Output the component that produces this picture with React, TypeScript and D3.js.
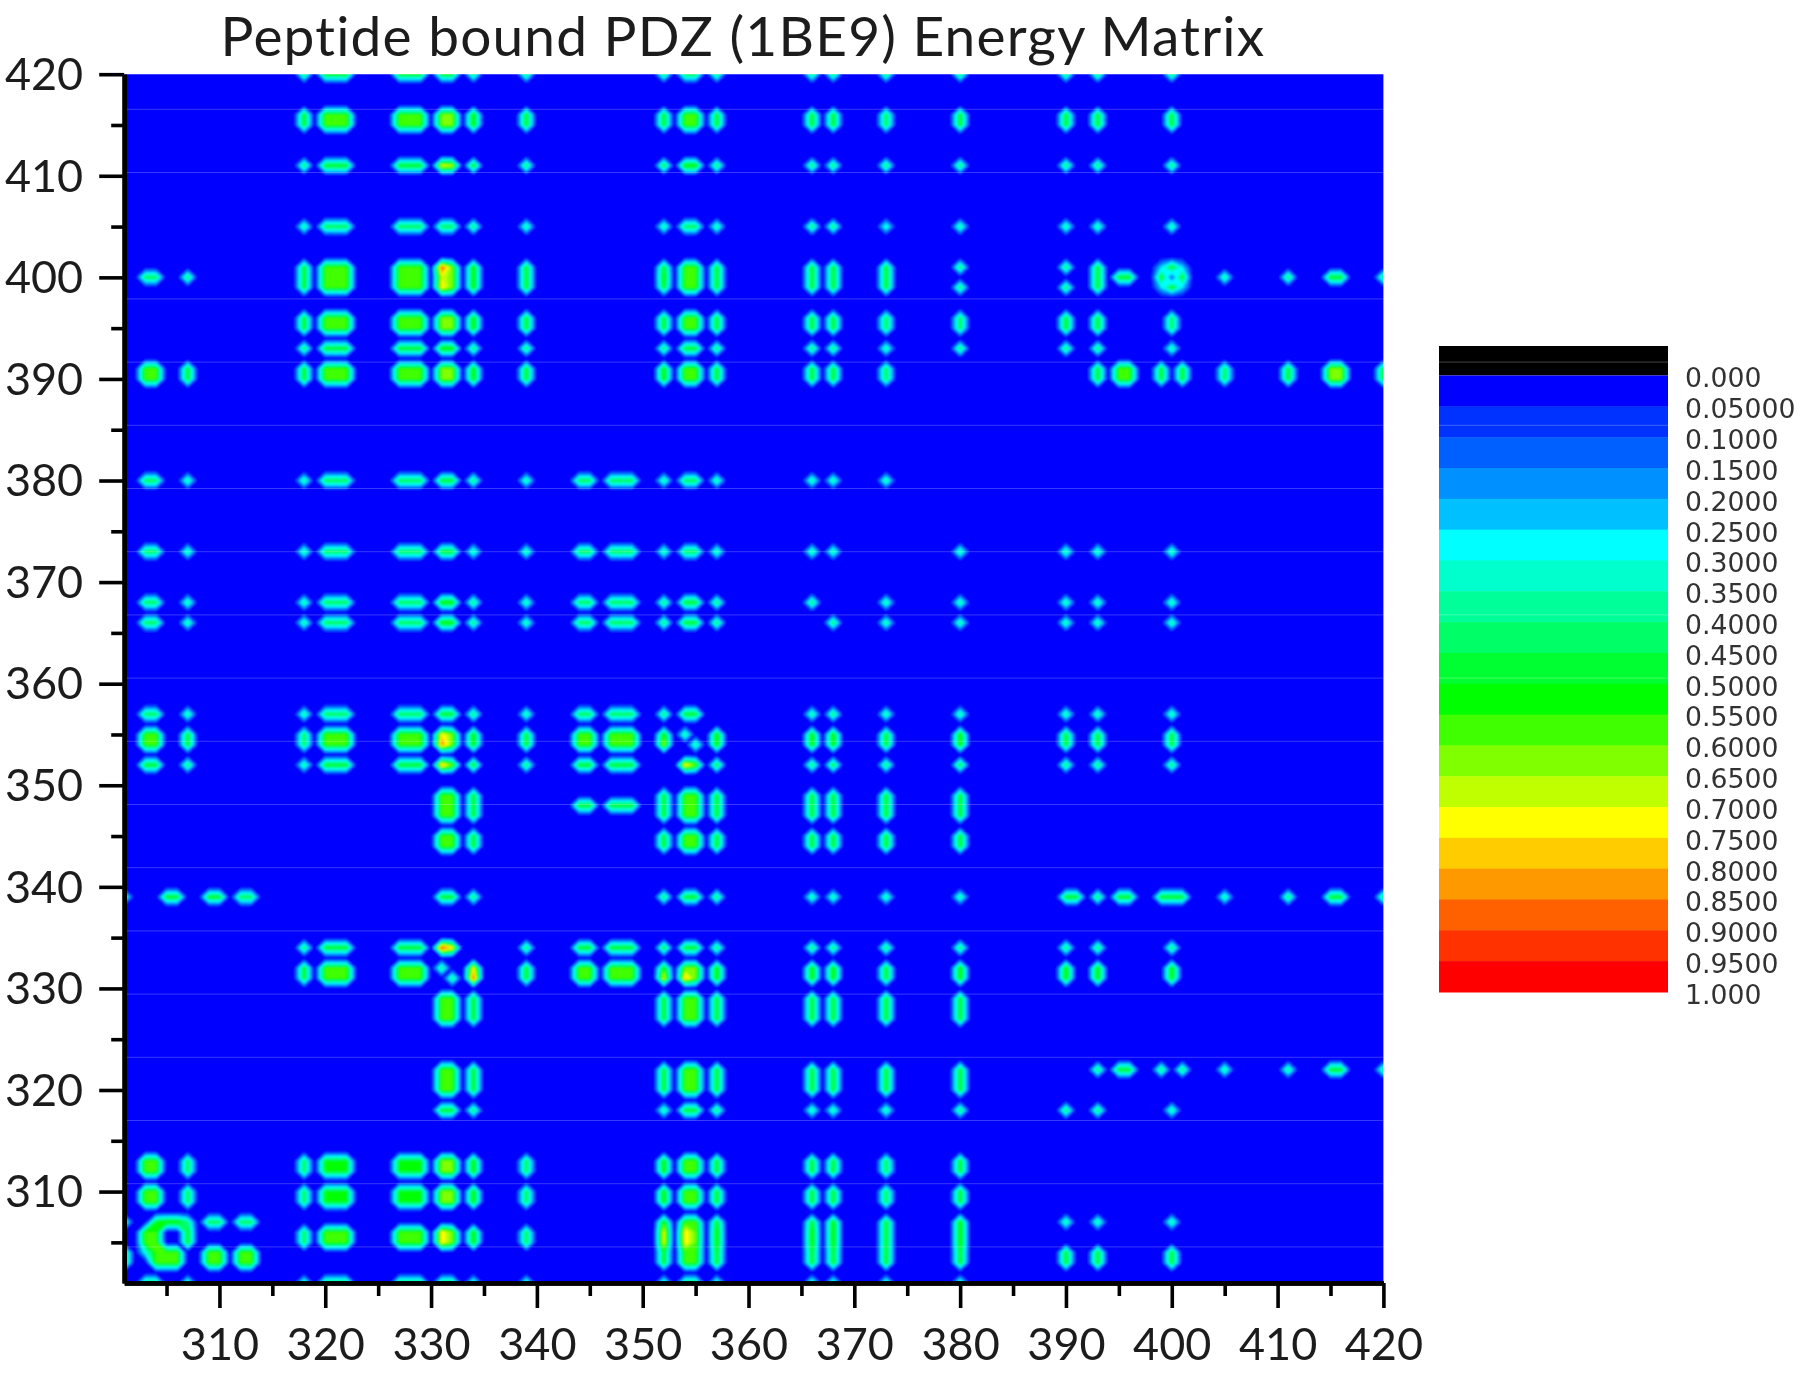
import React, { useEffect, useRef } from 'react';
import * as d3 from 'd3';

const titleText = 'Peptide bound PDZ (1BE9) Energy Matrix';

const xTicks = [310, 320, 330, 340, 350, 360, 370, 380, 390, 400, 410, 420];
const yTicks = [310, 320, 330, 340, 350, 360, 370, 380, 390, 400, 410, 420];
const minorTicks = [305, 315, 325, 335, 345, 355, 365, 375, 385, 395, 405, 415];

const legendLabels = ['0.000', '0.05000', '0.1000', '0.1500', '0.2000', '0.2500', '0.3000', '0.3500', '0.4000', '0.4500', '0.5000', '0.5500', '0.6000', '0.6500', '0.7000', '0.7500', '0.8000', '0.8500', '0.9000', '0.9500', '1.000'];
const bandColors = ['#0000ff', '#0030ff', '#0060ff', '#0090ff', '#00c0ff', '#00ffff', '#00ffcc', '#00ff99', '#00ff66', '#00ff33', '#00ff00', '#40ff00', '#80ff00', '#bfff00', '#ffff00', '#ffcc00', '#ff9900', '#ff6000', '#ff3000', '#ff0000'];
const bandLevels = [0, 0.05, 0.1, 0.15, 0.2, 0.25, 0.3, 0.35, 0.4, 0.45, 0.5, 0.55, 0.6, 0.65, 0.7, 0.75, 0.8, 0.85, 0.9, 0.95];

// residue groups along x
const colBands = [[301, 301], [303, 304], [305, 306], [307, 307], [309, 310], [312, 313], [318, 318], [320, 322], [327, 329], [331, 332], [334, 334], [339, 339], [344, 345], [347, 349], [352, 352], [354, 355], [357, 357], [366, 366], [368, 368], [373, 373], [380, 380], [390, 390], [393, 393], [395, 396], [399, 399], [400, 400], [401, 401], [405, 405], [411, 411], [415, 416], [420, 420]];

// residue groups along y, same order as energyRows
const rowBands = [[420, 420], [415, 416], [411, 411], [405, 405], [401, 401], [400, 400], [399, 399], [395, 396], [393, 393], [390, 391], [380, 380], [373, 373], [368, 368], [366, 366], [357, 357], [354, 355], [352, 352], [347, 349], [344, 345], [339, 339], [334, 334], [331, 332], [327, 329], [320, 322], [318, 318], [312, 313], [309, 310], [307, 307], [305, 306], [303, 304], [301, 301]];

const energyLevels: Record<string, number> = { '.': 0, b: 0.35, c: 0.4, d: 0.45, e: 0.5, f: 0.55, g: 0.6, h: 0.68 };

const energyRows = [
    '...... deeedd ..ddd dddd dd..d. ....',
    '...... effgfe ..efe eede ee..e. ....',
    '...... deehfd ..efd dddd dd..d. ....',
    '...... cddddc ..cdc ddbc cc..c. ....',
    '...... effgfe ..efe eeed de..e. ....',
    '.d.d.. effgfe ..ffe eee. .eee.e cded',
    '...... effgfe ..efe eeed de..e. ....',
    '...... effgfe ..efe eedd ee..d. ....',
    '...... deefdd ..ded ddcd dd..c. ....',
    '.f.e.. effgfe ..ffe eed. .efe.e dege',
    '.d.c.. cddedc ddcdc ccc. ...... ....',
    '.d.c.. cddecc ddcdc cc.c cc..c. ....',
    '.d.c.. cddfdc ddded d.cc cc..c. ....',
    '.d.c.. cddfdc ddded .dcc cc..c. ....',
    '.d.c.. cddedc ddde. cdcc cc..c. ....',
    '.f.e.. dffgfe fff.f ffef ee..e. ....',
    '.e.d.. ceegfd ee.ge dede dd..d. ....',
    '...... ...fe. ..efe eeee ...... ....',
    '...... ...fe. ..efe eeee ...... ....',
    'c.e.ed ...ed. ..ded cccc edeeee cded',
    '...... deeg.d eeeed dddd dd..d. ....',
    '...... eff.ge fffgf ffef ff..f. ....',
    '...... ...fe. ..efe eeee ...... ....',
    '...... ...fe. ..efe eeee ...... ....',
    '...... ...ed. ..ced cccd dd..c. ....',
    '.f.d.. deegfd ..ffe eede ...... ....',
    '.f.d.. deegfd ..ffe eede ...... ....',
    'cef.dd ...... ..ffe efef cc..c. ....',
    '.f.e.. dffgfd ..fgf ffef ...... ....',
    'eff.ff ...... ..efe eeee ee..e. ....',
    '.d.c.. cdddcc ..cdc cccc ...... ....',
];

// single residue pairs that differ from their group [x, y, energy]
const spotCells = [
    [331, 401, 0.9], [331, 400, 0.7], [331, 399, 0.75], [331, 411, 0.72], [331, 354, 0.85], [331, 355, 0.75],
    [331, 352, 0.82], [331, 334, 0.95], [332, 334, 0.75], [331, 305, 0.75], [331, 306, 0.75], [334, 331, 0.9],
    [334, 332, 0.75], [352, 305, 0.72], [352, 306, 0.72], [354, 305, 0.75], [354, 306, 0.75], [354, 331, 0.8],
    [352, 331, 0.72], [354, 352, 0.78], [352, 354, 0.65], [354, 355, 0.4], [355, 354, 0.4], [331, 332, 0.42],
    [332, 331, 0.42], [393, 322, 0.45], [395, 322, 0.5], [396, 322, 0.5], [399, 322, 0.45], [401, 322, 0.45],
    [405, 322, 0.4], [411, 322, 0.42], [415, 322, 0.5], [416, 322, 0.5], [420, 322, 0.42], [391, 339, 0.5],
    [303, 303, 0], [303, 307, 0], [303, 304, 0.3], [307, 307, 0.4],
    [344, 348, 0.5], [345, 348, 0.5], [347, 348, 0.5], [348, 348, 0.5], [349, 348, 0.5],
    [399, 399, 0.25], [401, 399, 0.25], [399, 401, 0.25], [401, 401, 0.25], [400, 400, 0.1],
];

const firstResidue = 301;
const lastResidue = 420;

function buildGrid() {
    const n = lastResidue - firstResidue + 1;
    const grid = new Array(n * n).fill(0);
    const setCell = (x: number, y: number, v: number) => {
        grid[(y - firstResidue) * n + (x - firstResidue)] = v;
    };
    energyRows.forEach((row, i) => {
        const cells = row.replace(/ /g, '');
        colBands.forEach((col, j) => {
            const v = energyLevels[cells[j]];
            for (let y = rowBands[i][0]; y <= rowBands[i][1]; y++) {
                for (let x = col[0]; x <= col[1]; x++) setCell(x, y, v);
            }
        });
    });
    spotCells.forEach(s => setCell(s[0], s[1], s[2]));
    return { n, grid };
}

export default function App() {
    const svgRef = useRef<SVGSVGElement>(null);

    useEffect(() => {
        const width = 1800;
        const height = 1374;
        const plot = { left: 124.2, right: 1383.4, top: 74.2, bottom: 1283 };
        const legend = { x: 1439, width: 229, top: 375.5, bottom: 992, blackTop: 346 };
        const tickFont = 'Lato, sans-serif';

        const svg = d3.select(svgRef.current)
            .attr('width', width)
            .attr('height', height)
            .attr('viewBox', `0 0 ${width} ${height}`)
            .style('position', 'absolute')
            .style('left', 0)
            .style('top', 0)
            .style('background', '#fff');

        svg.selectAll('*').remove();

        const xScale = d3.scaleLinear().domain([firstResidue, lastResidue]).range([plot.left, plot.right]);
        const yScale = d3.scaleLinear().domain([firstResidue, lastResidue]).range([plot.bottom, plot.top]);

        const defs = svg.append('defs');
        defs.append('clipPath').attr('id', 'plot-clip')
            .append('rect')
            .attr('x', plot.left).attr('y', plot.top)
            .attr('width', plot.right - plot.left).attr('height', plot.bottom - plot.top);
        defs.append('filter').attr('id', 'soft').attr('x', '-2%').attr('y', '-2%').attr('width', '104%').attr('height', '104%')
            .append('feGaussianBlur').attr('stdDeviation', 1.1);
        defs.append('filter').attr('id', 'soft-text').attr('x', '-5%').attr('y', '-5%').attr('width', '110%').attr('height', '110%')
            .append('feGaussianBlur').attr('stdDeviation', 0.5);

        // contour bands
        const { n, grid } = buildGrid();
        const contours = d3.contours().size([n, n]).thresholds(bandLevels.slice(1))(grid);
        const gridX = d3.scaleLinear().domain([0.5, n - 0.5]).range([xScale(firstResidue), xScale(lastResidue)]);
        const gridY = d3.scaleLinear().domain([0.5, n - 0.5]).range([yScale(firstResidue), yScale(lastResidue)]);
        const path = d3.geoPath(d3.geoTransform({
            point(x, y) {
                this.stream.point(gridX(x), gridY(y));
            },
        }));

        const plotArea = svg.append('g').attr('clip-path', 'url(#plot-clip)');
        const field = plotArea.append('g').attr('filter', 'url(#soft)');
        field.append('rect')
            .attr('x', plot.left - 20).attr('y', plot.top - 20)
            .attr('width', plot.right - plot.left + 40).attr('height', plot.bottom - plot.top + 40)
            .attr('fill', bandColors[0]);
        field.selectAll('path.band')
            .data(contours)
            .enter()
            .append('path')
            .attr('class', 'band')
            .attr('d', d => path(d))
            .attr('fill', (d, i) => bandColors[i + 1]);

        // faint scan seams of the original figure
        const seams = d3.range(19).map(i => 109.3 + i * 63.2);
        plotArea.selectAll('line.seam')
            .data(seams.filter((d, i) => i !== 2))
            .enter()
            .append('line')
            .attr('class', 'seam')
            .attr('x1', plot.left).attr('x2', plot.right)
            .attr('y1', d => d).attr('y2', d => d)
            .attr('stroke', '#fff').attr('stroke-opacity', 0.22).attr('stroke-width', 1);

        // axes
        const textLayer = svg.append('g').attr('filter', 'url(#soft-text)');

        const xMajor = textLayer.append('g')
            .attr('transform', `translate(0,${plot.bottom})`)
            .call(d3.axisBottom(xScale).tickValues(xTicks).tickSize(25).tickSizeOuter(0).tickFormat(d3.format('d')));
        const xMinor = textLayer.append('g')
            .attr('transform', `translate(0,${plot.bottom})`)
            .call(d3.axisBottom(xScale).tickValues(minorTicks).tickSize(13).tickSizeOuter(0).tickFormat(() => ''));
        const yMajor = textLayer.append('g')
            .attr('transform', `translate(${plot.left},0)`)
            .call(d3.axisLeft(yScale).tickValues(yTicks).tickSize(25).tickSizeOuter(0).tickFormat(d3.format('d')));
        const yMinor = textLayer.append('g')
            .attr('transform', `translate(${plot.left},0)`)
            .call(d3.axisLeft(yScale).tickValues(minorTicks).tickSize(13).tickSizeOuter(0).tickFormat(() => ''));

        [xMajor, xMinor, yMajor, yMinor].forEach(axis => {
            axis.selectAll('.domain').attr('stroke', '#000').attr('stroke-width', 4.5);
            axis.selectAll('.tick line').attr('stroke', '#000').attr('stroke-width', 3.6);
            axis.selectAll('text')
                .attr('font-family', tickFont)
                .attr('font-size', 45)
                .attr('fill', '#1c1c1c');
        });
        xMajor.selectAll('text').attr('y', 45).attr('dy', '0.71em');
        yMajor.selectAll('text').attr('x', -41).attr('dy', '0.34em');

        textLayer.append('text')
            .attr('x', 743)
            .attr('y', 56)
            .attr('text-anchor', 'middle')
            .attr('font-family', tickFont)
            .attr('font-size', 55)
            .attr('letter-spacing', 1.2)
            .attr('fill', '#1c1c1c')
            .text(titleText);

        // legend
        const legendY = d3.scaleLinear().domain([0, bandColors.length]).range([legend.top, legend.bottom]);
        const legendGroup = svg.append('g').attr('filter', 'url(#soft-text)');
        legendGroup.append('rect')
            .attr('x', legend.x).attr('y', legend.blackTop)
            .attr('width', legend.width).attr('height', legend.top - legend.blackTop)
            .attr('fill', '#000');
        legendGroup.selectAll('rect.band')
            .data(bandColors)
            .enter()
            .append('rect')
            .attr('class', 'band')
            .attr('x', legend.x)
            .attr('y', (d, i) => legendY(i))
            .attr('width', legend.width)
            .attr('height', legendY(1) - legendY(0) + 0.5)
            .attr('fill', d => d);
        legendGroup.selectAll('line.seam')
            .data([seams[4], seams[5], seams[8], seams[9]])
            .enter()
            .append('line')
            .attr('class', 'seam')
            .attr('x1', legend.x).attr('x2', legend.x + legend.width)
            .attr('y1', d => d).attr('y2', d => d)
            .attr('stroke', '#fff').attr('stroke-opacity', 0.25).attr('stroke-width', 1);
        legendGroup.selectAll('text')
            .data(legendLabels)
            .enter()
            .append('text')
            .attr('x', 1685)
            .attr('y', (d, i) => legendY(i) + 2)
            .attr('dy', '0.37em')
            .attr('font-family', '"DejaVu Sans", sans-serif')
            .attr('font-size', 26.7)
            .attr('fill', '#333')
            .text(d => d);
    }, []);

    return <svg ref={svgRef}></svg>;
}
